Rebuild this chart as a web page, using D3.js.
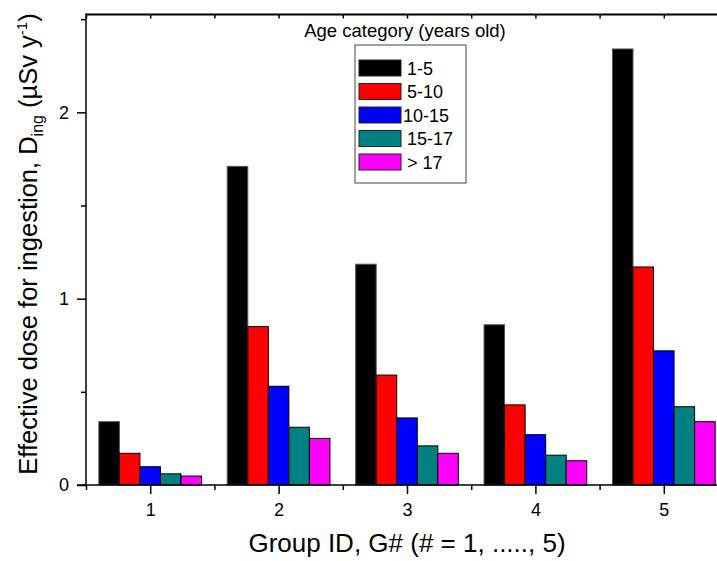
<!DOCTYPE html>
<html>
<head>
<meta charset="utf-8">
<script src="https://cdn.jsdelivr.net/npm/d3@7"></script>
<style>
  body { margin: 0; background: #fff; }
  text { font-family: "Liberation Sans", Arial, sans-serif; fill: #000; }
</style>
</head>
<body>
<div id="chart"></div>
<script>
// values (uSv per year)
const groups = [1, 2, 3, 4, 5]
const ageCategories = ["1-5", "5-10", "10-15", "15-17", "> 17"]
const dose_1_5 = [0.34, 1.71, 1.185, 0.86, 2.34]
const dose_5_10 = [0.17, 0.85, 0.59, 0.43, 1.17]
const dose_10_15 = [0.098, 0.53, 0.36, 0.27, 0.72]
const dose_15_17 = [0.06, 0.31, 0.21, 0.16, 0.42]
const dose_over_17 = [0.048, 0.25, 0.17, 0.13, 0.34]
const yTicks = [0, 1, 2]
const yMinorTicks = [0.5, 1.5, 2.5]
const xMinorTicks = [0.5, 1.5, 2.5, 3.5, 4.5, 5.5]

const series = [dose_1_5, dose_5_10, dose_10_15, dose_15_17, dose_over_17]
const colors = ["#000000", "#ff0000", "#0000ff", "#008080", "#ff00ff"]

const width = 717
const height = 561
const margin = { top: 14.5, left: 86, bottom: 485 }

const svg = d3.select("#chart")
  .append("svg")
  .attr("width", width)
  .attr("height", height)

const x = d3.scaleLinear().domain([0.5, 5.5]).range([margin.left, 728])
const y = d3.scaleLinear().domain([0, 2.525]).range([margin.bottom, margin.top])

const barW = 0.16 // in group units, 5 bars fill 0.8

// bars
series.forEach((values, i) => {
  svg.append("g")
    .selectAll("rect")
    .data(values)
    .enter().append("rect")
    .attr("x", (d, j) => x(groups[j] - 0.4 + i * barW))
    .attr("y", d => y(d))
    .attr("width", x(barW) - x(0))
    .attr("height", d => y(0) - y(d))
    .attr("fill", colors[i])
    .style("stroke", i == 0 ? "#555" : "#000")
    .style("stroke-width", 1)
})

// axes
const styleAxis = g => {
  g.select(".domain").remove()
  g.selectAll("line").attr("stroke", "#000").attr("stroke-width", 1.5)
  g.selectAll("text").style("font-size", "18px")
}

svg.append("g")
  .attr("transform", `translate(0,${margin.bottom})`)
  .call(d3.axisBottom(x).tickValues(groups).tickSize(9).tickPadding(9).tickFormat(d3.format("d")))
  .call(styleAxis)
svg.append("g")
  .attr("transform", `translate(0,${margin.bottom})`)
  .call(d3.axisBottom(x).tickValues(xMinorTicks).tickSize(5).tickFormat(""))
  .call(styleAxis)

svg.append("g")
  .attr("transform", `translate(${margin.left},0)`)
  .call(d3.axisLeft(y).tickValues(yTicks).tickSize(9).tickPadding(8).tickFormat(d3.format("d")))
  .call(styleAxis)
svg.append("g")
  .attr("transform", `translate(${margin.left},0)`)
  .call(d3.axisLeft(y).tickValues(yMinorTicks).tickSize(5).tickFormat(""))
  .call(styleAxis)

// top frame with inward ticks
svg.append("g")
  .attr("transform", `translate(0,${margin.top})`)
  .call(d3.axisTop(x).tickValues(groups.concat(xMinorTicks)).tickSize(-4).tickFormat(""))
  .call(styleAxis)

svg.append("line")
  .attr("x1", margin.left).attr("x2", width)
  .attr("y1", margin.top).attr("y2", margin.top)
  .attr("stroke", "#000").attr("stroke-width", 2)
svg.append("line")
  .attr("x1", margin.left).attr("x2", margin.left)
  .attr("y1", margin.top - 1).attr("y2", margin.bottom)
  .attr("stroke", "#000").attr("stroke-width", 1.5)
svg.append("line")
  .attr("x1", margin.left - 9).attr("x2", width)
  .attr("y1", margin.bottom).attr("y2", margin.bottom)
  .attr("stroke", "#000").attr("stroke-width", 1.5)

// axis titles
svg.append("text")
  .attr("x", (x(0.5) + x(5.5)) / 2)
  .attr("y", 552)
  .attr("text-anchor", "middle")
  .style("font-size", "26px")
  .text("Group ID, G# (# = 1, ....., 5)")

const yTitle = svg.append("text")
  .attr("transform", `translate(37,244) rotate(-90)`)
  .attr("text-anchor", "middle")
  .style("font-size", "25.5px")
yTitle.append("tspan").text("Effective dose for ingestion, D")
yTitle.append("tspan").attr("dy", 6).style("font-size", "16px").text("ing")
yTitle.append("tspan").attr("dy", -6).text(" (µSv y")
yTitle.append("tspan").attr("dy", -10).style("font-size", "15px").text("-1")
yTitle.append("tspan").attr("dy", 10).text(")")

// legend
svg.append("text")
  .attr("x", 405)
  .attr("y", 37)
  .attr("text-anchor", "middle")
  .style("font-size", "18.5px")
  .text("Age category (years old)")

const legend = svg.append("g")
legend.append("rect")
  .attr("x", 355).attr("y", 45)
  .attr("width", 111).attr("height", 138)
  .attr("fill", "#fff")
  .style("stroke", "#444")
  .style("stroke-width", 1)

const items = legend.selectAll(".item")
  .data(ageCategories)
  .enter().append("g")
  .attr("class", "item")
  .attr("transform", (d, i) => `translate(359,${60 + i * 23.5})`)
items.append("rect")
  .attr("width", 42).attr("height", 16)
  .attr("fill", (d, i) => colors[i])
  .style("stroke", "#222")
  .style("stroke-width", 1)
items.append("text")
  .attr("x", (d, i) => i == 2 ? 44 : 48)
  .attr("y", 14.5)
  .style("font-size", "18px")
  .text(d => d)
</script>
</body>
</html>
